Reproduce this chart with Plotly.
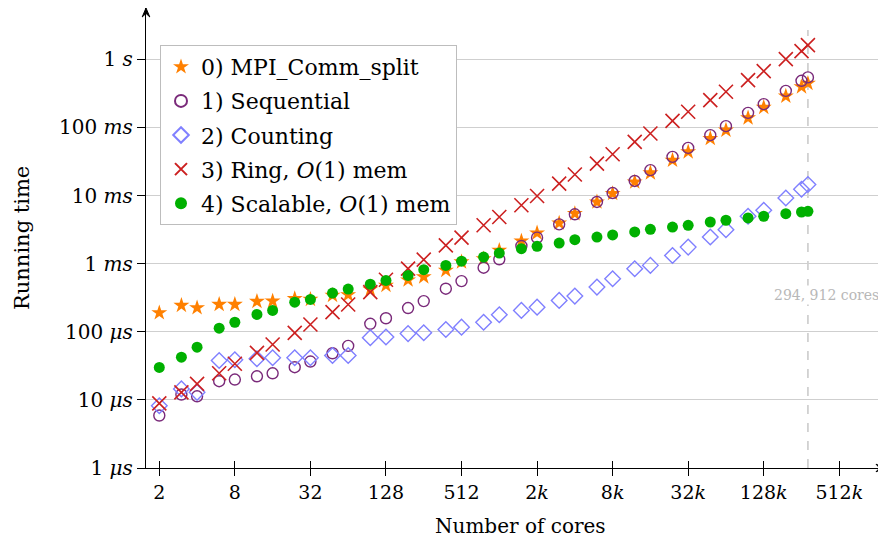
import math
import plotly.graph_objects as go

# ---------------- data ----------------
cores = [2, 3, 4, 6, 8, 12, 16, 24, 32, 48, 64, 96, 128, 192, 256, 384, 512, 768,
         1024, 1536, 2048, 3072, 4096, 6144, 8192, 12288, 16384, 24576, 32768,
         49152, 65536, 98304, 131072, 196608, 262144, 294912]

mpi_comm_split = [190e-6, 244e-6, 225e-6, 252e-6, 252e-6, 279e-6, 282e-6, 306e-6, 299e-6,
                  342e-6, 350e-6, 420e-6, 480e-6, 575e-6, 640e-6, 797e-6, 1.06e-3, 1.18e-3,
                  1.57e-3, 2.15e-3, 2.82e-3, 3.95e-3, 5.43e-3, 8.05e-3, 10.7e-3, 15.8e-3,
                  21.5e-3, 33.0e-3, 43.8e-3, 68.9e-3, 91.2e-3, 138e-3, 197e-3, 288e-3,
                  395e-3, 444e-3]

sequential = [5.9e-6, 12.0e-6, 11.3e-6, 18.8e-6, 19.9e-6, 22.2e-6, 24.6e-6, 30.2e-6, 36.6e-6,
              48.4e-6, 62e-6, 131e-6, 158e-6, 223e-6, 282e-6, 429e-6, 555e-6, 873e-6,
              1.16e-3, 1.82e-3, 2.41e-3, 3.78e-3, 5.31e-3, 8.05e-3, 10.9e-3, 16.4e-3,
              23.6e-3, 37.0e-3, 50.1e-3, 77.1e-3, 104.5e-3, 164e-3, 220e-3, 345e-3,
              484e-3, 543e-3]

counting = [8.2e-6, 14.5e-6, 12.9e-6, 37.8e-6, 38.8e-6, 40.1e-6, 41.5e-6, 41.5e-6, 41.5e-6,
            44.8e-6, 44.8e-6, 82e-6, 84e-6, 94e-6, 97e-6, 108e-6, 117e-6, 138e-6,
            178e-6, 206e-6, 230e-6, 289e-6, 334e-6, 453e-6, 602e-6, 844e-6,
            944e-6, 1.32e-3, 1.75e-3, 2.46e-3, 3.16e-3, 4.97e-3, 6.08e-3, 9.23e-3,
            12.4e-3, 14.5e-3]

ring = [8.9e-6, 12.9e-6, 17.2e-6, 24.6e-6, 33.9e-6, 49.1e-6, 65e-6, 96.6e-6, 128e-6,
        194e-6, 252e-6, 382e-6, 580e-6, 845e-6, 1.145e-3, 1.86e-3, 2.41e-3, 3.66e-3,
        4.85e-3, 7.2e-3, 9.86e-3, 15.0e-3, 20.4e-3, 29.5e-3, 40.5e-3, 61.4e-3,
        81.6e-3, 125e-3, 170e-3, 252e-3, 334e-3, 496e-3, 673e-3, 1.01,
        1.32, 1.62]

scalable = [30e-6, 42.3e-6, 59.4e-6, 113e-6, 138e-6, 180e-6, 206e-6, 272e-6, 299e-6,
            370e-6, 424e-6, 500e-6, 568e-6, 673e-6, 816e-6, 944e-6, 1.09e-3, 1.25e-3,
            1.43e-3, 1.66e-3, 1.80e-3, 2.01e-3, 2.25e-3, 2.46e-3, 2.64e-3, 2.92e-3,
            3.19e-3, 3.45e-3, 3.66e-3, 4.09e-3, 4.34e-3, 4.69e-3, 4.97e-3, 5.43e-3,
            5.74e-3, 5.88e-3]

series_names = ["0) MPI_Comm_split", "1) Sequential", "2) Counting",
                "3) Ring, <i>O</i>(1) mem", "4) Scalable, <i>O</i>(1) mem"]

x_tick_vals = [2, 8, 32, 128, 512, 2048, 8192, 32768, 131072, 524288]
x_tick_text = ["2", "8", "32", "128", "512", "2<i>k</i>", "8<i>k</i>", "32<i>k</i>",
               "128<i>k</i>", "512<i>k</i>"]
y_tick_vals = [1e-6, 1e-5, 1e-4, 1e-3, 1e-2, 1e-1, 1]
y_tick_text = ["1 <i>μs</i>", "10 <i>μs</i>", "100 <i>μs</i>", "1 <i>ms</i>",
               "10 <i>ms</i>", "100 <i>ms</i>", "1 <i>s</i>"]

marker_cores = 294912
marker_label = "294, 912 cores"

# ---------------- styling ----------------
FONT = "DejaVu Serif"
styles = [
    dict(symbol="star", size=12, color="#ff8000", lw=0),
    dict(symbol="circle-open", size=11, color="#7a2a7a", lw=1.4),
    dict(symbol="diamond-open", size=12, color="#8080ff", lw=1.4),
    dict(symbol="x-thin-open", size=14, color="#cc2020", lw=1.6),
    dict(symbol="circle", size=11, color="#00b000", lw=0),
]
all_series = [mpi_comm_split, sequential, counting, ring, scalable]

fig = go.Figure()
for i, (name, vals, st) in enumerate(zip(series_names, all_series, styles)):
    fig.add_trace(go.Scatter(
        x=cores, y=vals, mode="markers", name=name, legendgroup=f"g{i}",
        marker=dict(symbol=st["symbol"], size=st["size"], color=st["color"],
                    line=dict(color=st["color"], width=st["lw"])),
    ))

# page has an 8px body margin; figure is sized to fit the 886x539 window
OFF = 8
W, H = 886 - OFF, 539 - OFF
L, R, T, B = 146 - OFF, 1, 0, 71
pw = W - L - R
ph = H - T - B
log2 = math.log10(2)


def px_x(page_x):
    return (page_x - OFF - L) / pw


def px_y(page_y):
    return (H - B - (page_y - OFF)) / ph


fig.update_layout(
    width=W, height=H,
    margin=dict(l=L, r=R, t=T, b=B, autoexpand=False),
    paper_bgcolor="white", plot_bgcolor="white",
    font=dict(family=FONT, size=20, color="black"),
    showlegend=True,
    legend=dict(x=px_x(160), y=px_y(45), xanchor="left", yanchor="top",
                bgcolor="white", bordercolor="#bdbdbd", borderwidth=1,
                font=dict(family=FONT, size=22, color="black"),
                traceorder="grouped", tracegroupgap=2.5, itemsizing="constant"),
    xaxis=dict(type="log", range=[0.648 * log2, 20.21 * log2],
               tickvals=x_tick_vals, ticktext=x_tick_text,
               showgrid=False, zeroline=False, showline=True, linecolor="black",
               linewidth=1.3, ticks="outside", ticklen=7, tickcolor="black",
               tickwidth=1.2, tickfont=dict(family=FONT, size=19)),
    xaxis2=dict(type="log", range=[0.648 * log2, 20.21 * log2], overlaying="x",
                anchor="y", side="bottom", tickvals=x_tick_vals,
                showticklabels=False, showgrid=False, zeroline=False,
                showline=False, ticks="inside", ticklen=7, tickcolor="black",
                tickwidth=1.2),
    yaxis=dict(type="log", range=[-6, 0.754],
               tickvals=y_tick_vals, ticktext=y_tick_text,
               showgrid=True, gridcolor="#cfcfcf", gridwidth=1.2, zeroline=False,
               showline=True, linecolor="black", linewidth=1.3,
               ticks="outside", ticklen=8, tickcolor="black", tickwidth=1.2,
               tickfont=dict(family=FONT, size=20)),
)

# invisible trace so the inside-tick overlay axis is drawn
fig.add_trace(go.Scatter(x=[cores[0]], y=[scalable[0]], xaxis="x2", mode="markers",
                         marker=dict(opacity=0), showlegend=False, hoverinfo="skip"))

# dashed marker line
fig.add_shape(type="line", xref="x", yref="paper", x0=marker_cores, x1=marker_cores,
              y0=0, y1=px_y(30), line=dict(color="#c8c8c8", width=1.5, dash="dash"),
              layer="below")

# stealth arrow heads at the axis ends (paper coords, sized in pixels)
ah_len, ah_half = 9.0, 3.8
dxp, dyp = 1.0 / pw, 1.0 / ph
up_path = (f"M {-ah_half*dxp} {1 - ah_len*dyp} L 0 1 L {ah_half*dxp} {1 - ah_len*dyp} "
           f"L 0 {1 - 0.6*ah_len*dyp} Z")
right_path = (f"M {1 - ah_len*dxp} {ah_half*dyp} L 1 0 L {1 - ah_len*dxp} {-ah_half*dyp} "
              f"L {1 - 0.6*ah_len*dxp} 0 Z")
for p in (up_path, right_path):
    fig.add_shape(type="path", xref="paper", yref="paper", path=p,
                  fillcolor="black", line=dict(color="black", width=1), layer="above")

annotations = [
    dict(text=marker_label, xref="paper", yref="paper", x=px_x(881),
         y=px_y(295), xanchor="right", yanchor="middle", showarrow=False,
         bgcolor="white", borderpad=1,
         font=dict(family=FONT, size=14, color="#b8b8b8")),
    dict(text="Number of cores", xref="paper", yref="paper", x=px_x(520),
         y=px_y(526), xanchor="center", yanchor="middle", showarrow=False,
         font=dict(family=FONT, size=20, color="black")),
    dict(text="Running time", xref="paper", yref="paper", x=px_x(22),
         y=px_y(238), xanchor="center", yanchor="middle", textangle=-90,
         showarrow=False, font=dict(family=FONT, size=21, color="black")),
]
fig.update_layout(annotations=annotations)

fig.write_html("out.html")
